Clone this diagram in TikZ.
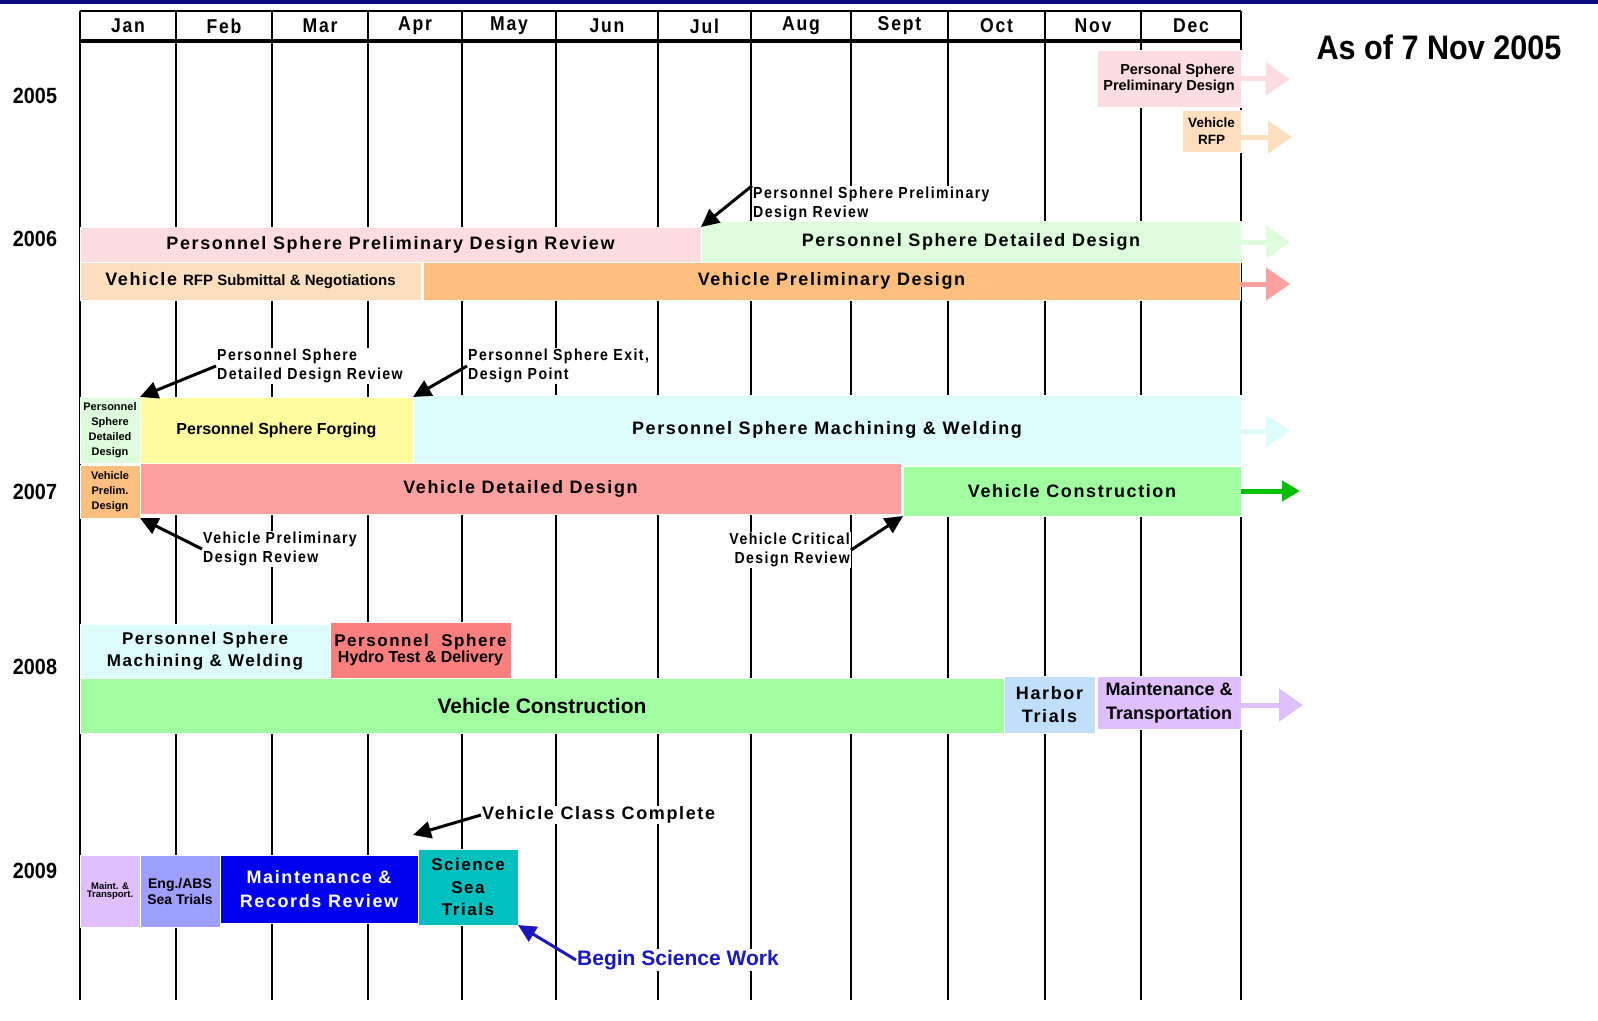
\documentclass[tikz,border=0pt]{standalone}
\usepackage{fontspec}
\setmainfont{Liberation Sans}
\newfontfamily\spc[LetterSpace=9]{Liberation Sans}
\newfontfamily\nsp[FakeStretch=0.88,LetterSpace=9]{Liberation Sans}
\newfontfamily\nar[FakeStretch=0.9]{Liberation Sans}
\usetikzlibrary{arrows.meta,positioning}
\newcommand{\fsz}[2]{\fontsize{#1}{#2}\selectfont}

\definecolor{topnavy}{RGB}{10,10,130}
\definecolor{pinkbar}{RGB}{253,221,224}
\definecolor{peachbar}{RGB}{253,223,191}
\definecolor{mintbar}{RGB}{221,253,221}
\definecolor{orangebar}{RGB}{253,191,127}
\definecolor{yellowbar}{RGB}{253,253,159}
\definecolor{cyanbar}{RGB}{221,253,253}
\definecolor{salmonbar}{RGB}{252,160,160}
\definecolor{greenbar}{RGB}{160,253,160}
\definecolor{redbar}{RGB}{252,127,127}
\definecolor{skybar}{RGB}{191,223,253}
\definecolor{lilacbar}{RGB}{223,191,253}
\definecolor{periwinkle}{RGB}{159,159,253}
\definecolor{bluebar}{RGB}{0,0,238}
\definecolor{tealbar}{RGB}{0,191,191}
\definecolor{goon}{RGB}{0,192,0}
\definecolor{notenavy}{RGB}{25,25,190}

\tikzset{
  bar/.style={draw=white, line width=0.8pt, inner sep=0pt, outer sep=0pt,
    anchor=north west, align=center},
  month/.style={font=\nsp\bfseries\fsz{20}{22}},
  year/.style={font=\nar\bfseries\fsz{22}{24}},
  note/.style={fill=white, inner sep=1pt, align=left, font=\nsp\bfseries\fsz{16}{19}},
  callout/.style={line width=3pt, -{Triangle[length=18pt,width=17pt]}},
  carry/.style={line width=5pt, -{Triangle[length=24pt,width=32pt]}}
}

\begin{document}
\begin{tikzpicture}[x=1pt,y=-1pt]
  \useasboundingbox (0,0) rectangle (1598,1020);

  % Draw the top rule
  \fill[topnavy] (0,0) rectangle (1598,3.5);

  % Draw the month grid
  \draw[line width=2pt] (80,11) -- (1241,11);
  \draw[line width=4pt] (79,41) -- (1242,41);
  \foreach \x in {80,176,272,368,462,556,658,751,851,948,1045,1141,1241}
    \draw[line width=2pt] (\x,11) -- (\x,1000);
  \foreach \m/\x in {Jan/128,Feb/224,Mar/320,Apr/415,May/509,Jun/607,Jul/704.5,Aug/801,Sept/899.5,Oct/996.5,Nov/1093,Dec/1191}
    \node[month] (m\m) at (\x,26) {\m};

  % Year labels
  \node[year] (y2005) at (35,96) {2005};
  \node[year] (y2006) at (35,239) {2006};
  \node[year] (y2007) at (35,492) {2007};
  \node[year] (y2008) at (35,667) {2008};
  \node[year] (y2009) at (35,871) {2009};

  \node[anchor=west, font=\nar\bfseries\fsz{34}{36}] (asof) at (1313,47) {As of 7 Nov 2005};

  % 2005
  \node[bar, fill=pinkbar, minimum width=144, minimum height=57, align=right,
    font=\bfseries\fsz{14.5}{16}] (psprelim) at (1097,50) {Personal Sphere\\Preliminary Design};
  \node[bar, fill=peachbar, minimum width=59, minimum height=42,
    font=\bfseries\fsz{13.5}{17}] (vrfp) at (1182,110) {Vehicle\\RFP};

  % 2006
  \node[bar, fill=pinkbar, minimum width=621, minimum height=35,
    font=\spc\bfseries\fsz{18}{22}] (ppdr) at (80,227) {Personnel Sphere Preliminary Design Review};
  \node[bar, fill=mintbar, minimum width=540, minimum height=41,
    font=\spc\bfseries\fsz{18}{22}] (psdd) at (701,221) {Personnel Sphere Detailed Design};
  \node[bar, fill=peachbar, minimum width=341, minimum height=38, font=\bfseries]
    (vrfpsn) at (80,262) {{\spc\fsz{18}{22}Vehicle}\hspace{6pt}{\fsz{15}{18}RFP Submittal \& Negotiations}};
  \node[bar, fill=orangebar, minimum width=817, minimum height=38,
    font=\spc\bfseries\fsz{18}{22}] (vpd) at (423,262) {Vehicle Preliminary Design};

  % 2007
  \node[bar, fill=mintbar, minimum width=60, minimum height=66,
    font=\bfseries\fsz{11}{15}] (psdd7) at (80,397) {Personnel\\Sphere\\Detailed\\Design};
  \node[bar, fill=yellowbar, minimum width=273, minimum height=66,
    font=\bfseries\fsz{16}{20}] (psf) at (140,397) {Personnel Sphere Forging};
  \node[bar, fill=cyanbar, minimum width=828, minimum height=70,
    font=\spc\bfseries\fsz{18}{22}] (psmw) at (413,395) {Personnel Sphere Machining \& Welding};
  \node[bar, fill=orangebar, minimum width=60, minimum height=53,
    font=\bfseries\fsz{11}{15}] (vpd7) at (80,465) {Vehicle\\Prelim.\\Design};
  \node[bar, fill=salmonbar, minimum width=761, minimum height=51,
    font=\spc\bfseries\fsz{18}{22}] (vdd) at (140,463) {Vehicle Detailed Design};
  \node[bar, fill=greenbar, minimum width=338, minimum height=50,
    font=\spc\bfseries\fsz{18}{22}] (vcon7) at (903,466) {Vehicle Construction};

  % 2008
  \node[bar, fill=cyanbar, minimum width=250, minimum height=54,
    font=\spc\bfseries\fsz{17}{22}] (psmw8) at (80,624) {Personnel Sphere\\Machining \& Welding};
  \node[bar, fill=redbar, minimum width=181, minimum height=56, font=\bfseries]
    (pshd) at (330,622) {{\spc\fsz{17}{21}Personnel\ \ Sphere}\\{\fsz{16}{21}Hydro Test \& Delivery}};
  \node[bar, fill=greenbar, minimum width=924, minimum height=55,
    font=\bfseries\fsz{21}{24}] (vcon8) at (80,678) {Vehicle\ Construction};
  \node[bar, fill=skybar, minimum width=91, minimum height=57,
    font=\spc\bfseries\fsz{18}{23}] (harbor) at (1004,676) {Harbor\\Trials};
  \node[bar, fill=lilacbar, minimum width=144, minimum height=53,
    font=\bfseries\fsz{18}{24}] (mtrans) at (1097,676) {Maintenance \&\\Transportation};

  % 2009
  \node[bar, fill=lilacbar, minimum width=60, minimum height=72,
    font=\bfseries\fsz{9.5}{8}] (mt9) at (80,855) {Maint. \&\\Transport.};
  \node[bar, fill=periwinkle, minimum width=80, minimum height=72,
    font=\bfseries\fsz{14}{16}] (engabs) at (140,855) {Eng./ABS\\Sea Trials};
  \node[bar, fill=bluebar, minimum width=198, minimum height=68, text=white,
    font=\spc\bfseries\fsz{18}{24}] (mrr) at (220,855) {Maintenance \&\\Records Review};
  \node[bar, fill=tealbar, minimum width=100, minimum height=76,
    font=\spc\bfseries\fsz{17}{22.5}] (sst) at (418,849) {Science\\Sea\\Trials};

  % Milestone notes
  \node[note, anchor=west] (nppdr) at (752,204) {Personnel Sphere Preliminary\\Design Review};
  \node[note, anchor=west] (npsddr) at (216,366) {Personnel Sphere\\Detailed Design Review};
  \node[note, anchor=west] (nexit) at (467,366) {Personnel Sphere Exit,\\Design Point};
  \node[note, anchor=west] (nvpdr) at (202,549) {Vehicle Preliminary\\Design Review};
  \node[note, anchor=east, align=right] (nvcdr) at (851,550) {Vehicle Critical\\Design Review};
  \node[note, anchor=west, font=\spc\bfseries\fsz{18}{22}] (nvcc) at (481,815) {Vehicle Class Complete};
  \node[note, anchor=west, text=notenavy, font=\bfseries\fsz{21}{24}] (nbsw) at (576,960) {Begin Science Work};
  \coordinate (vcctip) at (413,835);

  \draw[callout] (nppdr.north west) -- (ppdr.north east);
  \draw[callout] (npsddr.west) -- (psdd7.north east);
  \draw[callout] (nexit.west) -- (psf.north east);
  \draw[callout] (nvpdr.west) -- (vpd7.south east);
  \draw[callout] (nvcdr.east) -- (vcon7.south west);
  \draw[callout] (nvcc.west) -- (vcctip);
  \draw[callout, notenavy] (nbsw.west) -- (sst.south east);

  % Carry-over arrows
  \coordinate (c1) at (1290,79);
  \coordinate (c2) at (1292,137);
  \coordinate (c3) at (1290,242);
  \coordinate (c4) at (1290,284);
  \coordinate (c5) at (1290,431);
  \coordinate (c6) at (1300,491);
  \coordinate (c7) at (1303,705);
  \draw[carry, pinkbar] (psprelim.east) -- (c1);
  \draw[carry, peachbar] (vrfp.east |- c2) -- (c2);
  \draw[carry, mintbar] (psdd.east |- c3) -- (c3);
  \draw[carry, salmonbar] (vpd.east |- c4) -- (c4);
  \draw[carry, cyanbar] (psmw.east |- c5) -- (c5);
  \draw[line width=5pt, goon, -{Triangle[length=18pt,width=20pt]}] (vcon7.east) -- (c6);
  \draw[carry, lilacbar] (mtrans.east |- c7) -- (c7);
\end{tikzpicture}
\end{document}
